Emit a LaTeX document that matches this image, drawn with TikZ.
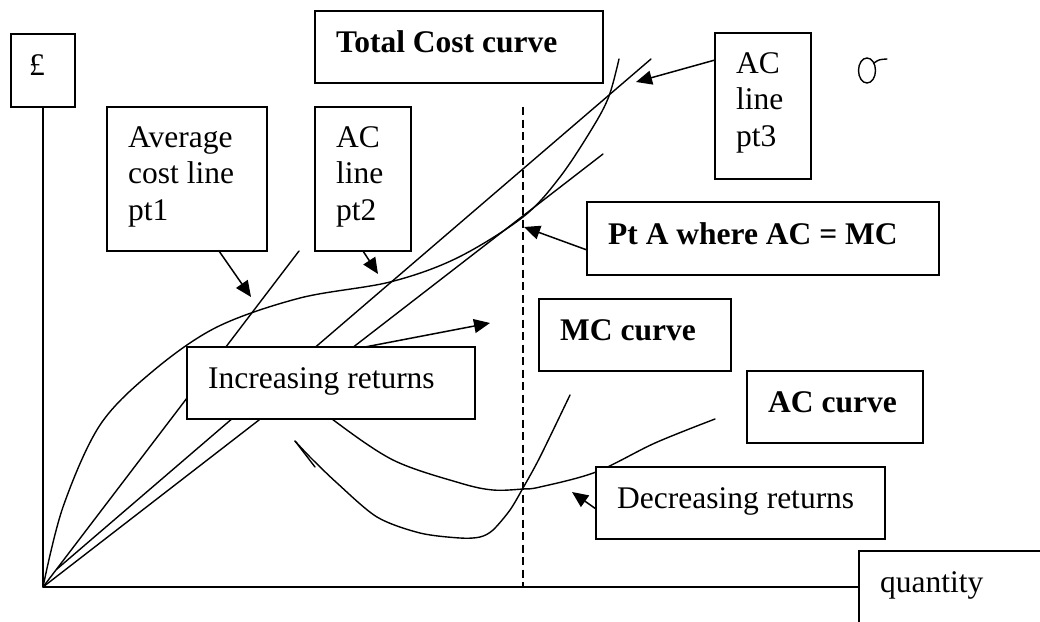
\documentclass[tikz,border=0pt]{standalone}
\usepackage{fontspec}
\setmainfont{Liberation Serif}
\usetikzlibrary{arrows.meta,calc}
\begin{document}
\begin{tikzpicture}[x=1pt,y=-1pt,
  box/.style={draw,fill=white,line width=1.6pt,inner sep=0pt,outer sep=0pt,anchor=north west},
  lbl/.style={inner sep=0pt,anchor=base west,font=\fontsize{31.5}{36.5}\selectfont},
  blbl/.style={lbl,font=\fontsize{31.5}{36.5}\selectfont\bfseries},
  curve/.style={line width=1.4pt,line join=round,line cap=round},
  axis/.style={line width=1.7pt},
  pointer/.style={line width=1.5pt,-{Triangle[length=16pt,width=14pt]}},
]
\useasboundingbox (0,0) rectangle (1040,621);
\clip (0,0) rectangle (1040,621);
\fill[white] (0,0) rectangle (1040,621);

% origin of the axes
\coordinate (O) at (43,587);

% straight average-cost lines from the origin
\draw[curve] (O) -- (299,251);
\draw[curve] (57,569) -- (651,59);
\draw[curve] (O) -- (603,154);

% total cost curve
\draw[curve] plot[smooth,tension=0.55] coordinates {(43,587) (63,507) (100,425) (153,371) (217,327) (300,298) (390,282) (457,258) (523,217) (560,177) (593,127) (609,96) (619,59)};

% marginal cost curve with its pen hook
\draw[curve] (315,467) -- (295,441);
\draw[curve] plot[smooth,tension=0.5] coordinates {(295,441) (310,457) (337,483) (377,517) (420,533) (460,538) (480,537) (493,530) (510,510) (523,488) (540,457) (570,395)};

% average cost curve
\draw[curve] plot[smooth,tension=0.55] coordinates {(305,395) (332,419) (393,460) (460,483) (493,490) (523,489) (540,487) (596,472) (655,443) (715,419)};

% output level where AC = MC
\draw[line width=1.5pt,dash pattern=on 8pt off 4.5pt] (523,107) -- (523,587);

% label boxes
\node[box,minimum width=64pt,minimum height=73pt] (bpound) at (11,34) {};
\node[box,minimum width=288pt,minimum height=72pt] (btc) at (315,11) {};
\node[box,minimum width=160pt,minimum height=144pt] (bpt1) at (107,107) {};
\node[box,minimum width=96pt,minimum height=144pt] (bpt2) at (315,107) {};
\node[box,minimum width=96pt,minimum height=146pt] (bpt3) at (715,33) {};
\node[box,minimum width=352pt,minimum height=73pt] (bpta) at (587,202) {};
\node[box,minimum width=192pt,minimum height=72pt] (bmc) at (539,299) {};
\node[box,minimum width=176pt,minimum height=72pt] (bac) at (747,371) {};
\node[box,minimum width=288pt,minimum height=72pt] (binc) at (187,347) {};
\node[box,minimum width=289pt,minimum height=72pt] (bdec) at (596,467) {};
\node[box,minimum width=220pt,minimum height=100pt] (bqty) at (859,551) {};

% axes
\draw[axis] (bpound.south) -- (O);
\draw[axis] (O) -- ([yshift=-36pt]bqty.north west);

% texts
\node[lbl] (tpound) at (29,75) {£};
\node[blbl] (ttc) at (336,52) {Total Cost curve};
\node[lbl] (tpt1a) at (128,147) {Average};
\node[lbl] (tpt1b) at (128,183.5) {cost line};
\node[lbl] (tpt1c) at (128,220) {pt1};
\node[lbl] (tpt2a) at (336,147) {AC};
\node[lbl] (tpt2b) at (336,183.5) {line};
\node[lbl] (tpt2c) at (336,220) {pt2};
\node[lbl] (tpt3a) at (736,73) {AC};
\node[lbl] (tpt3b) at (736,109.5) {line};
\node[lbl] (tpt3c) at (736,146) {pt3};
\node[blbl] (tpta) at (608,244) {Pt A where AC = MC};
\node[blbl] (tmc) at (560,340) {MC curve};
\node[blbl] (tac) at (768,412) {AC curve};
\node[lbl] (tinc) at (208,388) {Increasing returns};
\node[lbl] (tdec) at (617,508) {Decreasing returns};
\node[lbl] (tqty) at (880,592) {quantity};

% small pen mark
\draw[line width=1.4pt] (867,70.5) ellipse [x radius=8.5, y radius=12.5];
\draw[line width=1.4pt,line cap=round] (874,63) .. controls (879,59.5) .. (887,59);

% pointers
\coordinate (h1) at (251,297);
\coordinate (h2) at (378,274);
\coordinate (h3) at (636,82);
\coordinate (h4) at (524,227);
\coordinate (h5) at (490,323);
\coordinate (h6) at (572,492);
\draw[pointer] ([xshift=112pt]bpt1.south west) -- (h1);
\draw[pointer] ([xshift=48pt]bpt2.south west) -- (h2);
\draw[pointer] ([yshift=-27pt]bpt3.north west) -- (h3);
\draw[pointer] ([yshift=-48pt]bpta.north west) -- (h4);
\draw[pointer] ([xshift=178pt]binc.north west) -- (h5);
\draw[pointer] ([yshift=-42pt]bdec.north west) -- (h6);
\end{tikzpicture}
\end{document}
